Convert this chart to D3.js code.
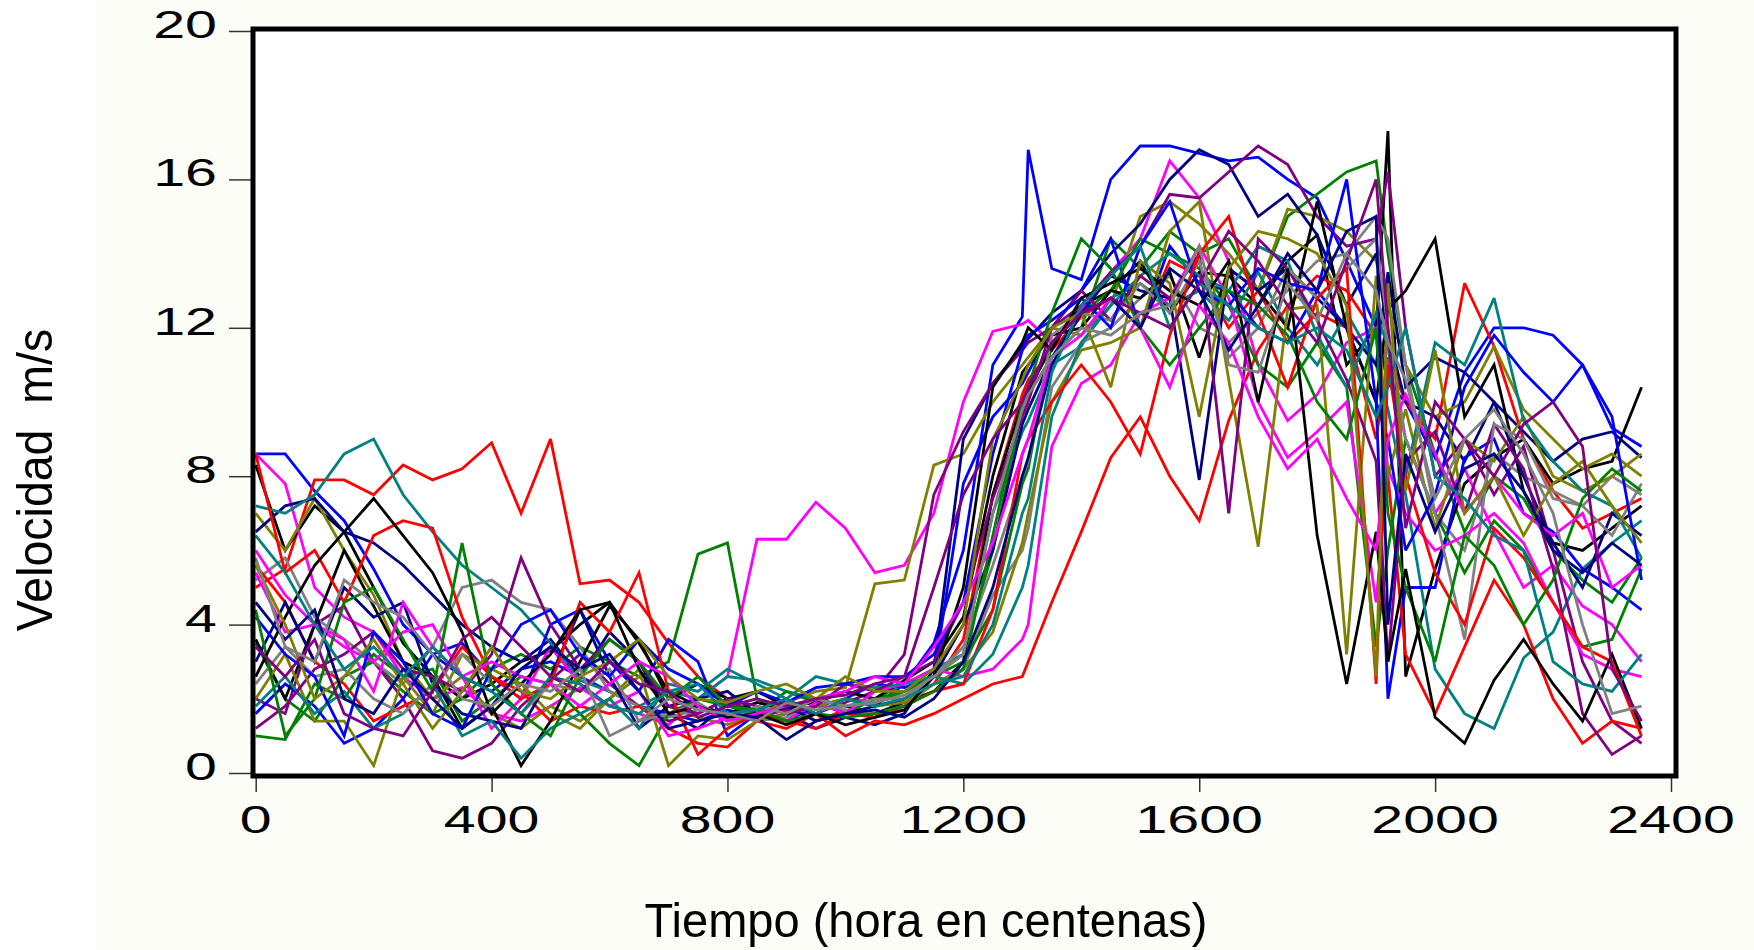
<!DOCTYPE html>
<html>
<head>
<meta charset="utf-8">
<script src="https://cdn.jsdelivr.net/npm/d3@7"></script>
<style>
  html, body { margin: 0; padding: 0; background: #ffffff; }
  svg { display: block; }
  text { font-family: "Liberation Sans", Arial, sans-serif; fill: #000; }
</style>
</head>
<body>
<svg id="chart" width="1754" height="950"></svg>
<script>
// ---- Data ----
const times = [0,50,100,150,200,250,300,350,400,450,
  500,550,600,650,700,750,800,850,900,950,
  1000,1050,1100,1150,1200,1250,1300,1310,1350,1400,
  1450,1500,1550,1600,1650,1700,1750,1800,1850,1900,
  1920,1950,2000,2050,2100,2150,2200,2250,2300,2350];

const xTicks = [0, 400, 800, 1200, 1600, 2000, 2400];
const yTicks = [0, 4, 8, 12, 16, 20];
const xTitle = "Tiempo (hora en centenas)";
const yTitle = "Velocidad  m/s";

const palette = ["#0000ff","#ff0000","#008000","#000000","#ff00ff","#808000","#000080","#008080","#800080","#808080"];

const blue1 = [8.6,8.6,7.6,6.8,5.5,4.0,3.2,2.6,2.2,2.8, 3.0,2.6,2.2,1.8,1.6,1.4,1.7,1.5,1.9,1.6, 2.0,1.8,2.4,3.5,6.0,11.0,12.3,16.8,13.6,13.3, 16.0,16.9,16.9,16.7,16.5,16.6,16.0,15.5,13.8,12.0, 10.5,10.0,8.5,10.8,12.0,12.0,11.8,11.0,9.3,8.8];
const red1 = [5.0,5.5,7.9,7.9,7.5,8.3,7.9,8.2,8.9,7.0, 9.0,5.1,5.2,4.6,3.5,2.6,2.0,1.6,1.8,1.4, 1.7,1.5,2.0,2.4,3.6,7.5,10.2,10.6,11.4,12.3, 12.8,12.0,13.8,13.4,12.0,13.0,11.6,12.4,12.0,9.0, 11.2,10.0,9.0,13.2,11.5,9.0,7.6,6.6,7.0,7.4];
const green1 = [3.5,2.0,1.4,2.6,3.0,2.2,1.6,2.0,2.8,3.2, 2.8,3.4,3.0,2.6,3.0,5.9,6.2,2.0,1.6,1.8, 2.0,1.9,2.2,2.6,3.2,6.0,9.8,10.2,11.2,12.0, 14.4,13.6,14.6,14.0,14.4,13.0,15.0,15.6,16.2,16.5, 14.0,11.0,8.6,6.5,8.0,7.4,6.0,5.2,4.6,5.8];
const black1 = [8.3,6.0,7.2,6.5,5.0,3.5,2.6,2.0,2.4,3.0, 3.3,4.0,4.6,3.5,2.2,1.8,1.6,1.9,1.7,2.0, 1.8,1.6,1.9,2.2,3.0,7.5,10.0,10.3,11.5,12.6, 13.0,13.8,12.4,13.5,13.4,12.6,13.8,14.5,11.0,12.0, 17.3,2.6,5.5,7.8,8.5,9.0,7.8,8.2,8.4,10.4];
const magenta1 = [8.6,7.8,5.0,4.2,3.8,2.6,2.0,2.3,1.6,1.4, 1.8,2.3,1.8,1.6,1.3,2.0,2.6,6.3,6.3,7.3, 6.6,5.4,5.6,7.0,10.0,11.9,12.1,12.2,11.6,12.5, 13.5,14.4,16.5,15.5,13.8,11.0,9.5,10.2,11.6,12.0, 11.0,9.0,7.0,8.2,6.5,5.0,5.6,4.5,4.0,3.0];
const olive1 = [7.0,6.0,7.4,6.0,4.8,3.0,2.0,2.6,1.6,1.2, 1.8,1.4,2.0,2.6,1.8,1.5,1.3,1.6,1.9,2.2, 2.3,5.1,5.2,8.3,8.6,10.0,11.0,11.2,12.0,11.8, 12.6,15.0,15.4,14.8,14.0,13.0,15.2,15.0,14.6,13.8, 12.6,11.0,9.6,10.0,11.5,9.8,9.0,8.2,8.6,8.0];
const navy1 = [6.5,7.2,7.4,6.5,6.2,5.6,4.8,4.0,3.4,3.0, 3.6,2.6,3.8,3.0,1.6,1.2,1.9,1.4,1.6,1.2, 1.5,1.3,1.6,2.8,9.0,10.5,11.5,11.7,12.4,13.0, 14.0,14.8,16.0,16.8,16.4,15.0,15.6,14.5,12.6,14.0, 11.8,10.0,9.6,8.4,10.0,9.2,8.4,9.0,9.2,8.5];
const teal1 = [7.2,7.0,7.5,8.6,9.0,7.5,6.5,5.6,5.0,4.4, 3.5,2.5,2.2,1.8,2.2,2.0,2.6,2.5,2.2,2.0, 2.2,2.0,2.4,2.8,3.2,7.0,9.2,9.5,11.0,11.5, 12.8,13.2,12.6,13.0,12.2,13.5,12.0,11.0,12.4,11.0, 9.8,7.5,2.8,1.6,1.2,3.1,3.8,5.5,6.2,6.8];
const purple1 = [2.0,1.6,4.0,4.5,3.0,2.0,0.6,0.4,0.8,1.8, 2.5,3.2,2.4,1.8,1.4,1.6,2.0,1.5,1.7,1.6, 1.9,2.2,3.2,7.5,9.2,10.5,11.4,11.6,12.0,12.6, 13.5,14.2,15.6,15.5,16.2,16.9,16.4,15.0,14.2,14.4, 16.2,12.0,8.0,9.0,7.5,8.8,6.0,3.0,1.4,0.8];
const gray1 = [5.2,5.8,4.2,3.6,3.0,2.4,3.4,5.0,5.2,4.6, 4.4,3.4,2.2,1.8,1.5,1.7,1.6,1.4,1.5,1.8, 1.7,1.6,1.8,2.4,2.8,4.8,6.0,6.6,10.4,11.6, 12.0,12.8,13.4,12.0,11.6,12.4,13.0,13.8,14.0,15.0, 14.4,11.0,7.0,6.0,8.6,8.0,7.6,7.2,8.0,7.5];

const blue2 = [1.6,2.4,1.8,0.8,1.2,2.0,3.2,3.5,2.6,2.0, 4.0,4.4,3.0,2.2,3.6,3.0,1.0,1.6,1.4,1.8, 2.0,2.4,2.3,2.6,7.8,9.6,10.5,10.8,12.0,13.0, 14.4,12.0,14.2,13.2,13.0,12.0,11.6,13.0,12.0,10.0, 2.0,5.0,5.0,8.5,9.0,7.0,6.5,5.5,5.0,4.4];
const red2 = [5.6,4.6,3.0,2.4,1.4,1.8,2.2,3.4,2.6,2.2, 1.4,1.8,1.6,1.8,1.2,0.8,0.7,1.4,1.2,1.6, 1.0,1.4,1.3,1.6,2.0,2.4,2.6,3.0,4.6,6.5, 8.5,9.6,8.0,6.8,9.5,11.4,12.6,13.4,13.0,11.8, 8.0,3.2,1.6,3.4,5.2,4.0,2.0,0.8,1.4,1.2];
const green2 = [1.0,0.9,2.4,2.0,3.2,2.6,2.8,1.4,2.0,2.6, 2.4,1.6,0.8,0.2,1.6,2.0,1.8,1.6,2.2,1.9, 1.6,2.0,2.2,2.6,3.0,4.4,7.8,8.2,11.6,12.4, 13.0,14.4,14.0,13.6,12.6,11.0,10.4,11.6,10.4,3.4, 6.0,9.0,7.0,5.4,6.8,6.0,4.6,3.4,3.6,5.5];
const black2 = [3.6,2.0,4.0,6.0,4.5,3.0,2.6,1.2,1.8,0.2, 1.4,3.0,4.5,3.6,2.0,2.4,2.0,2.2,1.8,1.9, 2.2,2.0,2.5,3.0,4.2,8.0,10.8,11.0,11.8,12.0, 13.0,12.8,13.5,11.2,13.6,13.0,12.0,15.4,12.0,10.0, 12.5,13.0,14.4,9.6,11.0,7.6,6.2,6.0,6.6,7.2];
const magenta2 = [5.4,3.8,4.0,3.4,3.0,3.8,4.0,2.6,1.2,2.0, 3.4,2.4,1.8,2.2,1.0,1.2,1.5,1.6,1.4,1.9, 1.6,2.2,2.4,2.8,2.6,2.8,3.6,4.0,8.8,10.5, 11.0,12.4,12.8,14.2,12.8,10.0,8.5,9.2,10.0,4.6, 8.2,7.0,6.0,6.4,7.0,6.2,4.6,3.2,2.8,2.6];
const olive2 = [2.0,3.2,1.4,1.4,0.2,2.6,1.6,3.2,2.8,2.4, 1.6,1.2,2.0,2.8,0.2,1.0,0.9,1.4,1.6,1.8, 2.0,1.8,1.9,2.4,2.8,3.8,6.2,7.0,10.0,11.4, 11.6,12.0,14.6,15.4,10.6,6.1,12.5,12.6,3.2,13.4, 8.0,9.8,6.6,9.0,8.4,9.6,8.0,7.6,8.0,8.6];
const navy2 = [3.0,4.6,3.0,5.0,4.2,4.6,2.4,1.6,1.4,1.2, 2.6,4.4,2.6,1.2,1.8,2.0,2.2,1.6,1.8,1.4, 1.6,1.8,2.0,2.6,4.0,6.0,9.4,9.8,11.2,12.4, 13.4,13.0,12.8,7.9,13.6,13.0,13.6,12.8,12.0,11.0, 13.5,10.4,11.2,10.8,10.0,8.0,6.2,5.0,7.0,6.4];
const teal2 = [1.8,2.6,1.6,2.2,1.2,1.6,2.4,1.0,1.4,0.4, 1.2,1.6,2.0,1.2,2.4,2.2,2.8,2.4,2.0,2.6, 2.4,2.3,2.4,2.6,2.4,3.2,5.0,5.6,9.6,11.6, 12.6,13.4,14.0,13.4,13.0,14.2,13.8,11.8,10.4,12.4, 11.5,8.0,11.6,11.0,12.8,9.5,8.4,7.6,7.2,5.8];
const purple2 = [1.2,1.8,2.8,3.2,3.8,2.8,2.6,2.2,3.2,5.8, 4.0,2.8,3.6,3.0,1.8,1.6,2.0,1.8,1.6,1.8, 2.4,2.2,2.6,3.0,4.6,7.4,9.6,10.0,12.0,13.0, 12.2,13.4,12.8,14.0,7.0,14.4,13.6,12.2,10.6,8.4, 3.0,8.4,9.2,7.0,9.4,8.2,5.5,1.6,0.5,1.0];
const gray2 = [2.4,3.4,2.6,2.8,2.0,1.6,2.4,3.2,2.4,1.6, 2.4,2.2,2.8,1.4,1.6,1.9,1.4,1.8,1.6,2.0, 1.8,2.0,2.0,2.6,3.4,5.6,8.0,8.4,11.8,12.4, 12.2,13.2,12.4,13.8,11.2,12.0,13.6,12.8,13.6,14.4, 12.0,9.0,7.0,3.6,9.4,9.0,7.4,7.2,6.4,7.8];

const blue3 = [4.2,3.2,2.6,1.0,3.8,3.0,1.6,1.2,2.8,4.0, 4.4,3.2,2.6,3.6,2.8,2.4,1.8,2.2,1.9,2.3, 2.4,2.6,2.6,3.2,4.6,8.6,11.4,11.8,12.2,12.8, 12.0,14.2,15.4,13.0,12.6,13.6,13.2,13.0,16.0,10.0, 9.0,6.0,7.5,10.4,11.8,10.8,10.0,11.0,9.6,5.2];
const red3 = [8.6,5.4,6.0,4.6,6.4,6.8,6.6,4.2,2.6,2.0, 2.4,4.6,3.8,5.4,2.2,0.5,1.2,1.6,1.4,1.2, 1.6,1.5,1.8,2.2,2.4,4.4,8.6,9.0,10.0,11.0, 10.0,8.6,11.8,14.0,15.0,12.4,10.4,12.8,13.6,2.4, 11.0,8.0,5.4,4.0,6.6,5.8,4.6,3.4,3.0,1.0];
const green3 = [4.4,1.0,2.0,4.6,5.0,3.6,2.2,6.2,2.4,1.6, 1.0,2.6,3.6,3.0,2.0,2.6,1.8,1.7,1.4,1.6, 1.5,1.6,1.8,2.2,2.8,6.4,10.0,10.4,12.4,14.4, 13.6,12.0,11.0,12.0,13.0,12.6,11.8,10.0,9.0,12.0, 7.0,5.0,3.0,6.4,5.6,4.0,5.2,7.4,8.2,7.6];
const black3 = [2.6,4.2,5.6,6.5,7.4,6.4,5.4,3.8,1.6,2.4, 3.2,4.4,4.6,2.8,1.6,1.8,1.5,1.6,1.3,1.6, 1.3,1.5,1.7,2.6,5.0,10.4,11.6,12.0,11.4,12.8, 13.2,13.6,13.0,12.6,13.8,10.0,13.6,6.4,2.4,6.5, 3.0,5.5,1.5,0.8,2.5,3.6,2.4,1.4,3.2,1.2];
const magenta3 = [6.0,4.8,4.0,3.6,2.2,4.6,3.4,2.6,3.0,2.6, 2.4,1.8,2.4,3.0,2.6,1.8,1.4,1.6,1.8,2.0, 2.2,2.6,2.4,3.4,4.6,6.2,8.6,9.0,11.2,11.8, 12.8,12.0,10.4,12.6,11.6,9.6,8.2,9.0,7.4,6.0, 9.0,10.2,8.6,7.0,8.0,7.0,6.4,7.0,5.0,5.6];
const olive3 = [5.6,4.0,2.0,2.6,3.6,2.4,1.2,2.2,3.4,2.2, 2.0,2.6,3.0,3.6,2.6,2.0,1.9,2.2,2.4,2.0, 2.6,2.2,2.2,2.8,4.0,9.0,10.6,11.0,12.0,12.4, 10.4,13.8,13.2,9.6,13.6,14.6,14.4,14.0,12.6,2.6, 13.2,7.6,11.4,7.0,8.0,6.4,7.8,8.4,7.2,6.2];
const navy3 = [4.6,3.6,4.4,2.0,1.6,2.8,2.0,1.2,1.8,2.8, 3.4,2.8,3.2,2.2,1.2,1.4,1.6,1.5,0.9,1.4, 1.6,1.7,1.5,2.0,3.0,5.0,8.0,8.5,11.0,12.4, 12.8,12.0,13.6,13.0,11.4,12.6,14.0,13.0,14.6,15.0, 4.0,8.6,6.5,8.2,8.6,7.6,6.0,5.4,6.2,5.6];
const teal3 = [6.4,5.4,4.0,2.8,3.4,2.6,3.4,2.6,2.2,1.6, 2.6,2.4,1.8,1.6,2.2,2.4,1.6,1.7,2.0,1.6, 2.0,1.8,2.0,2.4,2.6,4.0,7.0,7.4,10.8,12.6, 13.4,14.2,12.0,13.2,12.6,12.0,11.6,12.0,11.4,9.6, 10.4,12.0,8.0,7.4,6.4,6.0,3.0,2.4,2.2,3.2];
const purple3 = [3.4,2.6,3.6,1.6,1.2,1.0,2.2,3.6,4.2,3.4, 2.6,2.2,3.0,2.4,2.2,1.5,1.8,2.0,1.8,2.0, 2.1,2.4,2.6,5.0,7.5,9.0,10.0,10.4,11.6,12.4, 12.8,12.4,12.0,13.2,14.6,13.8,12.6,11.6,13.8,16.0, 12.0,6.6,10.0,9.0,8.0,9.4,10.0,8.8,2.8,1.4];
const gray3 = [5.8,3.4,3.0,5.2,4.6,4.2,3.2,2.0,1.8,2.4, 2.2,2.8,1.0,1.4,2.0,1.7,1.6,1.4,1.9,1.7, 1.8,1.9,2.1,2.6,3.2,7.0,9.8,10.2,11.2,12.0, 11.8,12.4,12.6,14.2,11.0,10.8,13.2,12.2,14.0,13.0, 11.6,10.6,7.4,9.0,9.8,8.6,7.0,4.0,1.6,1.8];

const seriesList = [
  blue1, red1, green1, black1, magenta1, olive1, navy1, teal1, purple1, gray1,
  blue2, red2, green2, black2, magenta2, olive2, navy2, teal2, purple2, gray2,
  blue3, red3, green3, black3, magenta3, olive3, navy3, teal3, purple3, gray3
];

// ---- Layout ----
const svg = d3.select("#chart");
const frame = {left: 253, right: 1676, top: 29, bottom: 776};

svg.append("rect").attr("x", 0).attr("y", 0).attr("width", 1754).attr("height", 950).attr("fill", "#ffffff");
svg.append("rect").attr("x", 95).attr("y", 0).attr("width", 1659).attr("height", 950).attr("fill", "#fdfdf8");
svg.append("rect").attr("x", frame.left).attr("y", frame.top)
  .attr("width", frame.right - frame.left).attr("height", frame.bottom - frame.top).attr("fill", "#ffffff");

const x = d3.scaleLinear().domain([0, 2400]).range([255.7, 1671]);
const y = d3.scaleLinear().domain([0, 20]).range([773, 31]);

svg.append("defs").append("clipPath").attr("id", "plotclip")
  .append("rect").attr("x", frame.left + 2).attr("y", frame.top + 2)
  .attr("width", frame.right - frame.left - 4).attr("height", frame.bottom - frame.top - 4);

const line = d3.line().x((d, i) => x(times[i])).y(d => y(d));

svg.append("g").attr("clip-path", "url(#plotclip)")
  .selectAll("path").data(seriesList).join("path")
  .attr("d", d => line(d))
  .attr("fill", "none")
  .attr("stroke", (d, i) => palette[i % palette.length])
  .attr("stroke-width", 2.8)
  .attr("stroke-linejoin", "miter")
  .attr("stroke-miterlimit", 3);

// Axes (ticks only, frame drawn separately)
const yAxis = d3.axisLeft(y).tickValues(yTicks).tickSize(24).tickFormat("");
const yg = svg.append("g").attr("transform", `translate(${frame.left},0)`).call(yAxis);
yg.select(".domain").remove();
yg.selectAll(".tick line").attr("stroke", "#333").attr("stroke-width", 1.5);

const xAxis = d3.axisBottom(x).tickValues(xTicks).tickSize(16).tickFormat("");
const xg = svg.append("g").attr("transform", `translate(0,${frame.bottom})`).call(xAxis);
xg.select(".domain").remove();
xg.selectAll(".tick line").attr("stroke", "#333").attr("stroke-width", 1.5);

// Tick labels (wide EViews-style digits)
svg.append("g").selectAll("text").data(yTicks).join("text")
  .attr("transform", d => `translate(217,${y(d) + 7}) scale(1.47,1)`)
  .attr("text-anchor", "end")
  .attr("font-size", 39)
  .text(d => d);

svg.append("g").selectAll("text").data(xTicks).join("text")
  .attr("transform", d => `translate(${x(d)},833) scale(1.47,1)`)
  .attr("text-anchor", "middle")
  .attr("font-size", 39)
  .text(d => d);

// Frame
svg.append("rect").attr("x", frame.left).attr("y", frame.top)
  .attr("width", frame.right - frame.left).attr("height", frame.bottom - frame.top)
  .attr("fill", "none").attr("stroke", "#000").attr("stroke-width", 5);

// Titles
svg.append("text")
  .attr("transform", "translate(926,937) scale(0.96,1)")
  .attr("text-anchor", "middle")
  .attr("font-size", 49)
  .text(xTitle);

svg.append("text")
  .attr("transform", "translate(52,480) rotate(-90) scale(0.93,1)")
  .attr("text-anchor", "middle")
  .attr("font-size", 50)
  .style("white-space", "pre")
  .text(yTitle);
</script>
</body>
</html>
